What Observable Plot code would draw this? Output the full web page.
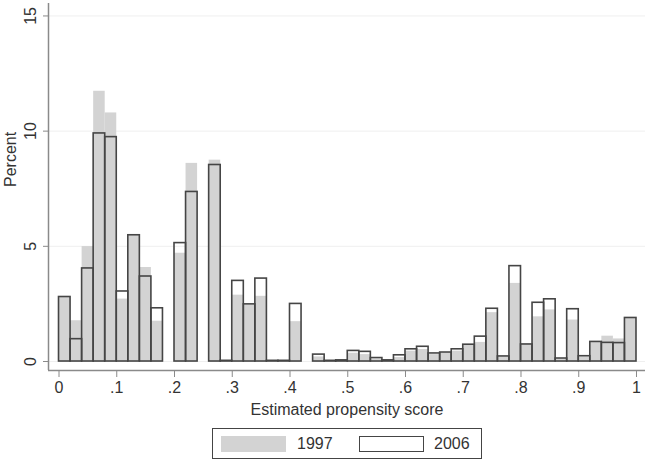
<!DOCTYPE html>
<html>
<head>
<meta charset="utf-8">
<script src="https://cdn.jsdelivr.net/npm/d3@7"></script>
<script src="https://cdn.jsdelivr.net/npm/@observablehq/plot@0.6"></script>
<style>
  html, body { margin: 0; padding: 0; background: #fff; }
  #wrap { position: relative; width: 650px; height: 465px; font-family: "Liberation Sans", Arial, sans-serif; color: #333; }
  #legend { position: absolute; left: 212px; top: 428px; width: 270px; height: 31px; border: 1.5px solid #444; box-sizing: border-box; }
  .sw { position: absolute; top: 7px; width: 65px; height: 16px; box-sizing: border-box; }
  .lt { position: absolute; top: 5px; font-size: 16px; line-height: 20px; color: #333; }
</style>
</head>
<body>
<div id="wrap">
  <div id="chart"></div>
  <div id="legend"></div>
</div>
<script>
// ---- Data ----
const binWidth = 0.02;
const binStart = [0.00,0.02,0.04,0.06,0.08,0.10,0.12,0.14,0.16,0.18,
                  0.20,0.22,0.24,0.26,0.28,0.30,0.32,0.34,0.36,0.38,
                  0.40,0.42,0.44,0.46,0.48,0.50,0.52,0.54,0.56,0.58,
                  0.60,0.62,0.64,0.66,0.68,0.70,0.72,0.74,0.76,0.78,
                  0.80,0.82,0.84,0.86,0.88,0.90,0.92,0.94,0.96,0.98];
const pct1997 = [2.80,1.77,4.99,11.73,10.79,2.71,5.48,4.08,1.75,null,
                 4.70,8.60,null,8.74,0.00,2.88,2.45,2.83,0.00,0.00,
                 1.73,null,0.20,0.00,0.03,0.36,0.30,0.10,0.04,0.17,
                 0.45,0.52,0.30,0.35,0.45,0.70,0.83,2.12,0.20,3.39,
                 0.74,1.94,2.24,0.10,1.80,0.20,0.85,1.10,0.98,1.89];
const pct2006 = [2.80,0.97,4.04,9.90,9.74,3.04,5.48,3.69,2.31,null,
                 5.14,7.36,null,8.53,0.03,3.50,2.48,3.60,0.03,0.03,
                 2.50,null,0.30,0.03,0.05,0.46,0.42,0.15,0.05,0.27,
                 0.53,0.64,0.35,0.39,0.53,0.73,1.08,2.29,0.22,4.14,
                 0.74,2.55,2.70,0.13,2.27,0.23,0.85,0.81,0.80,1.89];
const series = ["1997", "2006"];
const xTicks = [0,0.1,0.2,0.3,0.4,0.5,0.6,0.7,0.8,0.9,1];
const xTickLabels = ["0",".1",".2",".3",".4",".5",".6",".7",".8",".9","1"];
const yTicks = [0,5,10,15];
const yTickLabels = ["0","5","10","15"];
const xTitle = "Estimated propensity score";
const yTitle = "Percent";

// ---- Build table ----
const rows = binStart.map((s, i) => ({x1: s, x2: s + binWidth, a: pct1997[i], b: pct2006[i]}));
const rowsA = rows.filter(d => d.a != null);
const rowsB = rows.filter(d => d.b != null);

const fillGray = "#d3d3d3";
const outline = "#454545";
const axisCol = "#8a8a8a";
const xDomain = [-0.0182, 1.0156];
const yDomain = [-0.39, 15.54];

const chart = Plot.plot({
  width: 650,
  height: 422,
  marginLeft: 48,
  marginRight: 5,
  marginTop: 3,
  marginBottom: 52,
  style: {fontFamily: "Liberation Sans, Arial, sans-serif", fontSize: "16px", color: "#333", background: "#fff"},
  x: {domain: xDomain},
  y: {domain: yDomain},
  marks: [
    Plot.gridY(yTicks, {stroke: "#efefef", strokeOpacity: 1, strokeWidth: 1}),
    Plot.rectY(rowsA, {x1: "x1", x2: "x2", y1: 0, y2: "a", fill: fillGray}),
    Plot.rectY(rowsB, {x1: "x1", x2: "x2", y1: 0, y2: "b", fill: "none", stroke: outline, strokeWidth: 1.6}),
    Plot.ruleX([xDomain[0]], {stroke: axisCol, strokeWidth: 1.5}),
    Plot.ruleY([yDomain[0]], {stroke: axisCol, strokeWidth: 1.5}),
    Plot.axisX(xTicks, {
      tickFormat: d => xTickLabels[xTicks.indexOf(d)],
      tickSize: 7, tickPadding: 4, fontSize: 16, label: null, stroke: axisCol, fill: "#333"
    }),
    Plot.axisY(yTicks, {tickFormat: () => "", tickSize: 5, label: null, stroke: axisCol}),
    Plot.text(yTicks, {
      y: d => d, text: d => yTickLabels[yTicks.indexOf(d)],
      frameAnchor: "left", rotate: -90, dx: -13,
      textAnchor: "middle", lineAnchor: "bottom", fontSize: 16, fill: "#333"
    }),
    Plot.text([yTitle], {frameAnchor: "left", rotate: -90, dx: -37.5, fontSize: 16, fill: "#333", lineAnchor: "middle"}),
    Plot.text([xTitle], {frameAnchor: "bottom", dy: 39, fontSize: 16, fill: "#333", lineAnchor: "middle"})
  ]
});
document.getElementById("chart").appendChild(chart);

// ---- Legend ----
const legend = document.getElementById("legend");
const legendItems = [
  {name: series[0], swLeft: 8, txtLeft: 84, style: "background:" + fillGray + ";"},
  {name: series[1], swLeft: 146, txtLeft: 221, style: "background:#fff;border:1.5px solid " + outline + ";"}
];
legendItems.forEach(it => {
  const sw = document.createElement("div");
  sw.className = "sw";
  sw.style.cssText = "left:" + it.swLeft + "px;" + it.style;
  legend.appendChild(sw);
  const t = document.createElement("div");
  t.className = "lt";
  t.style.left = it.txtLeft + "px";
  t.textContent = it.name;
  legend.appendChild(t);
});
</script>
</body>
</html>
